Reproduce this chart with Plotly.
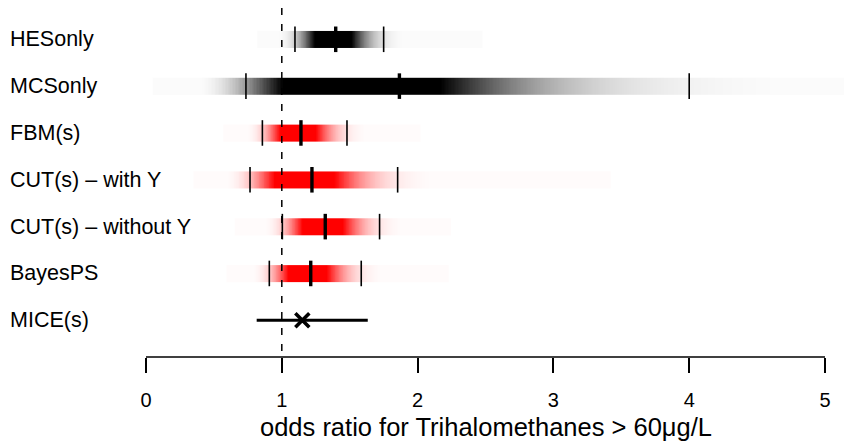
import numpy as np
import plotly.graph_objects as go

# ---- data ----
methods = ["HESonly", "MCSonly", "FBM(s)", "CUT(s) \u2013 with Y",
           "CUT(s) \u2013 without Y", "BayesPS", "MICE(s)"]
dens_methods = methods[:6]
q_lower = [1.097, 0.736, 0.857, 0.766, 1.004, 0.908]
q_median = [1.397, 1.866, 1.141, 1.222, 1.320, 1.213]
q_upper = [1.750, 4.000, 1.480, 1.853, 1.720, 1.585]
strip_lo = [0.82, 0.05, 0.57, 0.35, 0.655, 0.594]
strip_hi = [2.48, 5.25, 2.02, 3.42, 2.245, 2.23]
strip_colour = ["black", "black", "red", "red", "red", "red"]
mice_lower = 0.815
mice_est = 1.151
mice_upper = 1.633
tick_vals = [0, 1, 2, 3, 4, 5]
tick_text = ["0", "1", "2", "3", "4", "5"]
ref_line = 1.0
x_title = "odds ratio for Trihalomethanes > 60\u03bcg/L"

# ---- layout geometry (page has an 8px body margin) ----
OFF = 8
W, H = 852 - OFF, 441 - OFF
px_per_unit = 135.8
x0_px = 146.0 - OFF
x_range = [-x0_px / px_per_unit, (W - x0_px) / px_per_unit]
row0_px, row_step = 39.3 - OFF, 46.83
plot_h = 357 - OFF
y_range = [(plot_h - row0_px) / row_step, -row0_px / row_step]
band_half = 0.178
tick_half = 0.273

fig = go.Figure()

scales = {"black": [[0, "#ffffff"], [1, "#000000"]],
          "red": [[0, "#ffffff"], [1, "#ff0000"]]}

N = 500
for k in range(len(dens_methods)):
    lo, med, hi = q_lower[k], q_median[k], q_upper[k]
    edges = np.linspace(strip_lo[k], strip_hi[k], N + 1)
    centres = 0.5 * (edges[:-1] + edges[1:])
    mu = np.log(med)
    sL = (mu - np.log(lo)) / 1.96
    sR = (np.log(hi) - mu) / 1.96
    s = np.where(centres < med, sL, sR)
    f = np.exp(-(np.log(centres) - mu) ** 2 / (2 * s ** 2)) / centres
    ratio = f / f.max()
    dark = np.clip(1.5 * ratio ** 1.2, 0, 1)
    dark = np.maximum(dark, 0.015)
    fig.add_trace(go.Heatmap(
        x=edges, y=[k - band_half, k + band_half], z=[dark],
        zmin=0, zmax=1, colorscale=scales[strip_colour[k]],
        showscale=False, hoverinfo="skip"))

# quantile ticks (thin) and median ticks (thick)
tx, ty, mx, my = [], [], [], []
for k in range(len(dens_methods)):
    for v in (q_lower[k], q_upper[k]):
        tx += [v, v, None]
        ty += [k - tick_half, k + tick_half, None]
    mx += [q_median[k], q_median[k], None]
    my += [k - tick_half, k + tick_half, None]
fig.add_trace(go.Scatter(x=tx, y=ty, mode="lines",
                         line=dict(color="black", width=1.6),
                         hoverinfo="skip", showlegend=False))
fig.add_trace(go.Scatter(x=mx, y=my, mode="lines",
                         line=dict(color="black", width=3.4),
                         hoverinfo="skip", showlegend=False))

# MICE interval
km = len(methods) - 1
fig.add_trace(go.Scatter(x=[mice_lower, mice_upper], y=[km, km], mode="lines",
                         line=dict(color="black", width=3),
                         hoverinfo="skip", showlegend=False))
fig.add_trace(go.Scatter(x=[mice_est], y=[km], mode="markers",
                         marker=dict(symbol="x-thin", size=14, color="black",
                                     line=dict(color="black", width=3.6)),
                         hoverinfo="skip", showlegend=False))

# reference dashed line
fig.add_trace(go.Scatter(x=[ref_line, ref_line], y=[-0.668, 6.68], mode="lines",
                         line=dict(color="black", width=1.5, dash="7px,9px"),
                         hoverinfo="skip", showlegend=False))

# axis line from first to last tick
fig.add_shape(type="line", xref="x", yref="paper",
              x0=tick_vals[0], x1=tick_vals[-1], y0=0, y1=0,
              line=dict(color="black", width=1.6))

for k, name in enumerate(methods):
    fig.add_annotation(x=0, xref="paper", y=k, yref="y", text=name,
                       showarrow=False, xanchor="left", yanchor="middle",
                       font=dict(size=21.5, color="black"))

# axis title centred on the drawn axis
fig.add_annotation(x=(tick_vals[0] + tick_vals[-1]) / 2, xref="x", y=0, yref="paper",
                   text=x_title, showarrow=False, xanchor="center", yanchor="middle",
                   yshift=-70, font=dict(size=25.5, color="black"))

fig.update_layout(
    width=W, height=H,
    margin=dict(l=0, r=0, t=0, b=H - plot_h, pad=0),
    paper_bgcolor="white", plot_bgcolor="white",
    font=dict(family="Liberation Sans, Arial, Helvetica, sans-serif", color="black"),
    showlegend=False,
    xaxis=dict(range=x_range, showgrid=False, zeroline=False, showline=False,
               tickmode="array", tickvals=tick_vals, ticktext=tick_text,
               ticks="outside", ticklen=15, tickwidth=1.6, tickcolor="black",
               tickfont=dict(size=20, family="Liberation Sans, Arial, sans-serif",
                             color="black"),
               ticklabelstandoff=10, fixedrange=True),
    yaxis=dict(range=y_range, showgrid=False, zeroline=False, showline=False,
               showticklabels=False, ticks="", fixedrange=True),
)

fig.write_html("out.html")
